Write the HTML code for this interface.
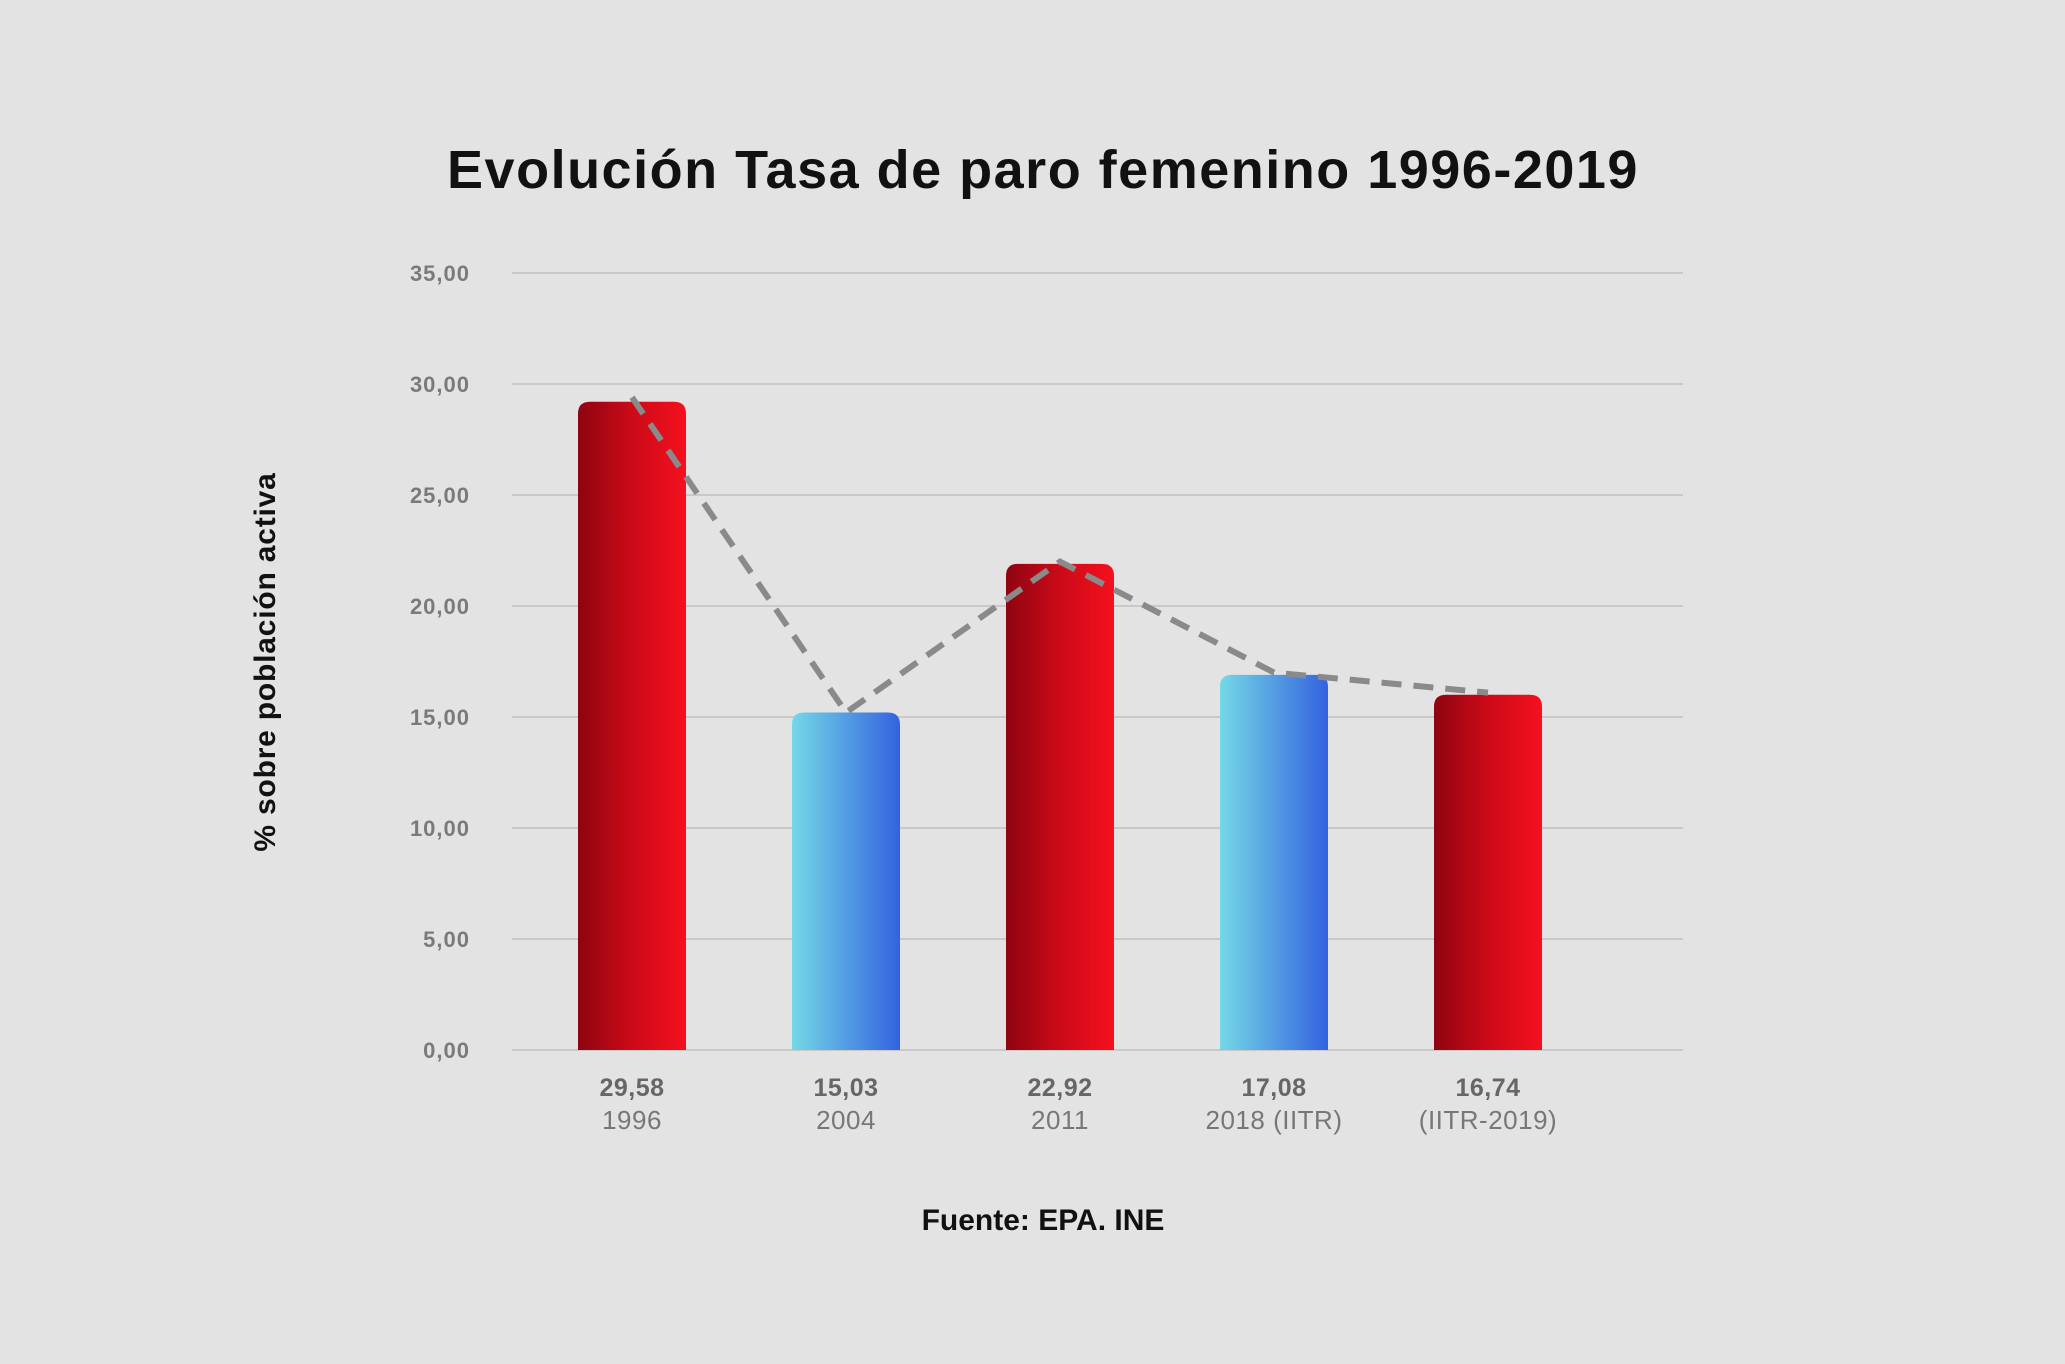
<!DOCTYPE html>
<html><head><meta charset="utf-8"><style>
html,body{margin:0;padding:0;background:#e3e3e3;}
svg{display:block;font-family:"Liberation Sans",sans-serif;}
</style></head><body>
<svg id="chart" width="2065" height="1364" viewBox="0 0 2065 1364">
<defs>
<linearGradient id="gRed" x1="0" x2="1" y1="0" y2="0"><stop offset="0" stop-color="#8e0410"/><stop offset="0.5" stop-color="#cc0a18"/><stop offset="1" stop-color="#f5101e"/></linearGradient>
<linearGradient id="gBlue" x1="0" x2="1" y1="0" y2="0"><stop offset="0" stop-color="#74d8e6"/><stop offset="1" stop-color="#3362e0"/></linearGradient>
</defs>
<rect width="2065" height="1364" fill="#e3e3e3"/>
<text x="1043" y="188" text-anchor="middle" font-size="54" font-weight="bold" letter-spacing="1.5" fill="#111">Evolución Tasa de paro femenino 1996-2019</text>
<text transform="translate(275,662) rotate(-90)" text-anchor="middle" font-size="30" font-weight="bold" letter-spacing="0.8" fill="#111">% sobre población activa</text>
<text x="1043" y="1230" text-anchor="middle" font-size="30" font-weight="bold" fill="#111">Fuente: EPA. INE</text>
<g id="grid"></g><g id="bars"></g><g id="line"></g><g id="labels"></g>
</svg>
<script>
const categories=["1996","2004","2011","2018 (IITR)","(IITR-2019)"];
const valueLabels=["29,58","15,03","22,92","17,08","16,74"];
const barValues=[29.2,15.2,21.9,16.9,16.0];
const lineValues=[29.4,15.2,22.0,17.0,16.1];
const colors=["red","blue","red","blue","red"];
const yTicks=[0,5,10,15,20,25,30,35];
const tickLabels=["0,00","5,00","10,00","15,00","20,00","25,00","30,00","35,00"];
const NS="http://www.w3.org/2000/svg";
const y0=1050,pxPer=22.2,gx0=512,gx1=1683,bw=108;
const y=v=>y0-v*pxPer;
const x=i=>632+i*214;
function mk(t,a,p){const e=document.createElementNS(NS,t);for(const k in a)e.setAttribute(k,a[k]);p.appendChild(e);return e;}
const grid=document.getElementById('grid');
yTicks.forEach((t,i)=>{
 const l=mk('line',{x1:gx0,x2:gx1,y1:y(t),y2:y(t),stroke:'#c9c9c9','stroke-width':2},grid);
 
 
 const tx=mk('text',{x:470,y:y(t)+8,'text-anchor':'end','font-size':22,'font-weight':'bold',fill:'#7a7a7a','letter-spacing':1},grid);
 tx.textContent=tickLabels[i];
 
 
});
const bars=document.getElementById('bars');
barValues.forEach((v,i)=>{
 const top=y(v),r=12,L=x(i)-bw/2,R=x(i)+bw/2;
 const d=`M${L},${y0}V${top+r}Q${L},${top} ${L+r},${top}H${R-r}Q${R},${top} ${R},${top+r}V${y0}Z`;
 const p=mk('path',{d:d,fill:colors[i]==='red'?'url(#gRed)':'url(#gBlue)'},bars);
 
 
});
const pts=lineValues.map((v,i)=>x(i)+','+y(v)).join(' ');
const pl=mk('polyline',{points:pts,fill:'none',stroke:'#8a8a8a','stroke-width':6,'stroke-dasharray':'20,12'},document.getElementById('line'));


const lab=document.getElementById('labels');
categories.forEach((c,i)=>{
 const a=mk('text',{x:x(i),y:1096,'text-anchor':'middle','font-size':25,'font-weight':'bold',fill:'#666','letter-spacing':0.5},lab);
 a.textContent=valueLabels[i];
 
 
 const b=mk('text',{x:x(i),y:1129,'text-anchor':'middle','font-size':26,fill:'#777','letter-spacing':0.5},lab);
 b.textContent=c;
 
 
});
</script>
</body></html>
